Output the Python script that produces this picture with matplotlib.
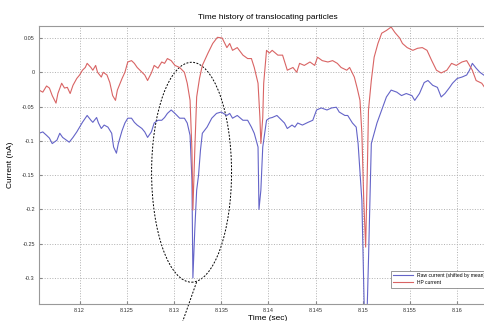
import matplotlib
matplotlib.use('Agg')
import matplotlib.pyplot as plt
from matplotlib.patches import Ellipse

plt.rcParams['font.family'] = ['Liberation Sans', 'DejaVu Sans']

# HP (high-pass) current trace
hp_time = [8.1157, 8.1161, 8.1165, 8.1168, 8.1171, 8.1175, 8.1177, 8.1181, 8.1184, 8.1187,
           8.1190, 8.1193, 8.1197, 8.1200, 8.1203, 8.1206, 8.1208, 8.1212, 8.1214, 8.1217,
           8.1219, 8.1223, 8.1225, 8.1229, 8.1232, 8.1235, 8.1238, 8.1240, 8.1245, 8.1248,
           8.1251, 8.1255, 8.1258, 8.1261, 8.1266, 8.1269, 8.1272, 8.1276, 8.1279, 8.1283,
           8.1287, 8.1290, 8.1293, 8.1297, 8.1301, 8.1306, 8.1311, 8.1314, 8.1317, 8.1319,
           8.1320, 8.1322, 8.1324, 8.1327, 8.1330, 8.1336, 8.1341, 8.1346, 8.1351, 8.1356,
           8.1359, 8.1362, 8.1367, 8.1373, 8.1378, 8.1382, 8.1385, 8.1389, 8.1391, 8.1392,
           8.1394, 8.1395, 8.1398, 8.1401, 8.1404, 8.1410, 8.1415, 8.1420, 8.1426, 8.1430,
           8.1433, 8.1438, 8.1444, 8.1449, 8.1452, 8.1457, 8.1463, 8.1468, 8.1473, 8.1477,
           8.1483, 8.1486, 8.1491, 8.1494, 8.1497, 8.1499, 8.1501, 8.1503, 8.1505, 8.1506,
           8.1509, 8.1512, 8.1516, 8.1520, 8.1525, 8.1530, 8.1534, 8.1539, 8.1542, 8.1547,
           8.1553, 8.1558, 8.1563, 8.1568, 8.1573, 8.1578, 8.1583, 8.1589, 8.1594, 8.1599,
           8.1605, 8.1610, 8.1613, 8.1616, 8.1620, 8.1626, 8.1631, 8.1636]
hp_current = [-0.026, -0.029, -0.020, -0.023, -0.034, -0.045, -0.031, -0.016, -0.023, -0.022,
              -0.031, -0.019, -0.009, -0.004, 0.003, 0.007, 0.013, 0.007, 0.003, 0.010,
              0.000, -0.007, 0.000, -0.004, -0.015, -0.034, -0.041, -0.026, -0.009, 0.000,
              0.015, 0.017, 0.013, 0.007, 0.000, -0.004, -0.012, -0.001, 0.010, 0.006,
              0.015, 0.013, 0.020, 0.017, 0.010, 0.007, 0.000, -0.016, -0.041, -0.114,
              -0.201, -0.114, -0.036, -0.009, 0.010, 0.028, 0.042, 0.051, 0.050, 0.036,
              0.042, 0.032, 0.036, 0.025, 0.020, 0.020, 0.007, -0.016, -0.066, -0.104,
              -0.066, -0.016, 0.032, 0.028, 0.032, 0.025, 0.025, 0.003, 0.007, 0.000,
              0.013, 0.010, 0.015, 0.010, 0.022, 0.017, 0.015, 0.017, 0.013, 0.007,
              0.003, 0.007, -0.007, -0.023, -0.041, -0.089, -0.187, -0.255, -0.128, -0.055,
              -0.012, 0.022, 0.042, 0.057, 0.061, 0.066, 0.058, 0.050, 0.042, 0.036,
              0.032, 0.035, 0.036, 0.032, 0.017, 0.003, -0.001, 0.003, 0.013, 0.010,
              0.015, 0.017, 0.010, 0.003, -0.012, -0.016, -0.026, -0.030]

# raw current trace, shifted by its mean
raw_time = [8.1157, 8.1161, 8.1165, 8.1168, 8.1171, 8.1176, 8.1179, 8.1182, 8.1186, 8.1189,
            8.1193, 8.1197, 8.1200, 8.1203, 8.1206, 8.1208, 8.1212, 8.1214, 8.1218, 8.1220,
            8.1223, 8.1226, 8.1230, 8.1234, 8.1236, 8.1239, 8.1241, 8.1245, 8.1248, 8.1251,
            8.1255, 8.1258, 8.1261, 8.1266, 8.1269, 8.1272, 8.1276, 8.1279, 8.1283, 8.1287,
            8.1290, 8.1293, 8.1297, 8.1301, 8.1306, 8.1311, 8.1314, 8.1317, 8.1319, 8.1320,
            8.1322, 8.1324, 8.1326, 8.1328, 8.1330, 8.1335, 8.1340, 8.1345, 8.1350, 8.1356,
            8.1359, 8.1362, 8.1367, 8.1373, 8.1378, 8.1382, 8.1385, 8.1389, 8.1390, 8.1392,
            8.1394, 8.1398, 8.1401, 8.1404, 8.1409, 8.1414, 8.1417, 8.1420, 8.1425, 8.1428,
            8.1431, 8.1436, 8.1442, 8.1447, 8.1451, 8.1456, 8.1462, 8.1467, 8.1472, 8.1475,
            8.1481, 8.1484, 8.1489, 8.1493, 8.1495, 8.1499, 8.1502, 8.1504, 8.1506, 8.1508,
            8.1509, 8.1515, 8.1520, 8.1525, 8.1530, 8.1536, 8.1541, 8.1546, 8.1552, 8.1555,
            8.1560, 8.1565, 8.1569, 8.1574, 8.1579, 8.1583, 8.1587, 8.1592, 8.1595, 8.1600,
            8.1605, 8.1610, 8.1613, 8.1616, 8.1620, 8.1624, 8.1628, 8.1634]
raw_current = [-0.089, -0.087, -0.092, -0.096, -0.104, -0.099, -0.089, -0.095, -0.099, -0.102,
               -0.095, -0.087, -0.080, -0.073, -0.067, -0.063, -0.070, -0.073, -0.066, -0.074,
               -0.082, -0.077, -0.080, -0.089, -0.109, -0.118, -0.104, -0.085, -0.074, -0.067,
               -0.067, -0.073, -0.077, -0.082, -0.087, -0.095, -0.087, -0.074, -0.070, -0.070,
               -0.066, -0.060, -0.055, -0.060, -0.067, -0.067, -0.074, -0.092, -0.157, -0.300,
               -0.230, -0.172, -0.150, -0.114, -0.089, -0.080, -0.067, -0.060, -0.058, -0.063,
               -0.060, -0.067, -0.063, -0.070, -0.070, -0.080, -0.089, -0.109, -0.200, -0.172,
               -0.109, -0.070, -0.067, -0.066, -0.063, -0.070, -0.074, -0.082, -0.077, -0.080,
               -0.074, -0.077, -0.073, -0.070, -0.055, -0.052, -0.055, -0.052, -0.051, -0.058,
               -0.063, -0.063, -0.074, -0.080, -0.104, -0.187, -0.376, -0.376, -0.274, -0.157,
               -0.104, -0.074, -0.055, -0.036, -0.026, -0.029, -0.034, -0.031, -0.034, -0.041,
               -0.031, -0.015, -0.012, -0.019, -0.022, -0.036, -0.031, -0.022, -0.016, -0.009,
               -0.007, -0.004, 0.003, 0.013, 0.006, 0.000, -0.004, -0.008]

x_ticks = [8.12, 8.125, 8.13, 8.135, 8.14, 8.145, 8.15, 8.155, 8.16]
x_labels = ['8.12', '8.125', '8.13', '8.135', '8.14', '8.145', '8.15', '8.155', '8.16']
y_ticks = [0.05, 0, -0.05, -0.1, -0.15, -0.2, -0.25, -0.3]
y_labels = ['0.05', '0', '-0.05', '-0.1', '-0.15', '-0.2', '-0.25', '-0.3']

fig = plt.figure(figsize=(4.84, 3.21), dpi=100)
ax = fig.add_axes([0.0806, 0.053, 0.946, 0.866])

ax.plot(raw_time, raw_current, color='#6464c8', lw=0.8, label='Raw current (shifted by mean)')
ax.plot(hp_time, hp_current, color='#d96464', lw=0.8, label='HP current')

ax.set_xlim(8.1157, 8.1642)
ax.set_ylim(-0.338, 0.0675)
ax.set_xticks(x_ticks)
ax.set_xticklabels(x_labels)
ax.set_yticks(y_ticks)
ax.set_yticklabels(y_labels)
ax.tick_params(labelsize=4, direction='in', length=2, color='#888888', labelcolor='#333333', pad=3)
ax.grid(True, linestyle=':', color='#b0b0b0', lw=0.7)
for s in ax.spines.values():
    s.set_color('#999999')
    s.set_linewidth(0.8)

ax.set_title('Time history of translocating particles', fontsize=6, pad=5)
ax.set_xlabel('Time (sec)', fontsize=6, labelpad=1)
ax.set_ylabel('Current (nA)', fontsize=6, labelpad=6)

leg = ax.legend(loc='upper left', bbox_to_anchor=(0.802, 0.165), bbox_transform=fig.transFigure,
                fontsize=3.6, fancybox=False, framealpha=1, edgecolor='#888888',
                handlelength=4, borderpad=0.5, labelspacing=0.4)
leg.get_frame().set_linewidth(0.6)

# dashed ellipse around the first event and its pointer line
ell = Ellipse((8.13186, -0.1458), 0.00847, 0.3208, fill=False, ls=(0, (2, 1.5)),
              lw=0.7, color='black', clip_on=False)
ax.add_patch(ell)
ax.plot([8.13239, 8.1307], [-0.306, -0.372], ls=(0, (2, 1.5)), lw=0.7, color='black', clip_on=False)

fig.savefig('out.png', dpi=100)
